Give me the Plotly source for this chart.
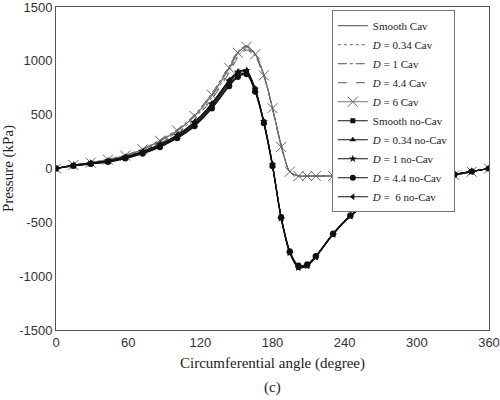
import plotly.graph_objects as go

angles = [0, 14.4, 28.8, 43.2, 57.6, 72, 86.4, 100.8, 115.2, 129.6, 144, 151.2, 158.4, 165.6,
          172.8, 180, 187.2, 194.4, 201.6, 208.8, 216, 230.4, 244.8, 259.2, 273.6, 288, 302.4,
          316.8, 331.2, 345.6, 360]

smooth_cav = [0, 30, 52, 80, 118, 175, 255, 350, 485, 680, 930, 1070, 1135, 1065, 870, 560, 220,
              -30, -70, -70, -70, -70, -70, -70, -70, -70, -70, -70, -62, -30, 0]
d034_cav = [0, 28, 50, 76, 112, 166, 244, 336, 468, 660, 905, 1045, 1110, 1045, 860, 555, 215,
            -30, -70, -70, -70, -70, -70, -70, -70, -70, -70, -70, -62, -30, 0]
d1_cav = [0, 33, 56, 85, 124, 183, 265, 362, 500, 700, 950, 1085, 1140, 1070, 875, 565, 225,
          -28, -70, -70, -70, -70, -70, -70, -70, -70, -70, -70, -62, -30, 0]
d44_cav = [0, 25, 46, 72, 106, 158, 235, 325, 455, 645, 890, 1030, 1100, 1040, 855, 550, 210,
           -32, -70, -70, -70, -70, -70, -70, -70, -70, -70, -70, -62, -30, 0]
d6_cav = [0, 32, 54, 82, 120, 178, 258, 352, 488, 685, 935, 1075, 1130, 1060, 865, 560, 200,
          -30, -70, -70, -70, -70, -70, -70, -70, -70, -70, -70, -62, -30, 0]

smooth_nocav = [0, 28, 46, 66, 100, 148, 212, 298, 415, 585, 800, 880, 900, 730, 430, 30, -460,
                -780, -915, -900, -820, -610, -440, -320, -232, -176, -139, -93, -56, -28, 0]
d034_nocav = [0, 26, 44, 63, 96, 142, 205, 288, 402, 570, 780, 862, 885, 720, 425, 25, -455,
              -772, -905, -895, -815, -605, -437, -318, -230, -175, -138, -92, -55, -27, 0]
d1_nocav = [0, 30, 49, 70, 105, 155, 220, 308, 428, 600, 815, 895, 910, 738, 435, 35, -462,
            -785, -920, -905, -822, -612, -442, -322, -233, -177, -140, -94, -57, -28, 0]
d44_nocav = [0, 24, 42, 60, 92, 137, 198, 280, 392, 558, 765, 850, 875, 712, 420, 20, -450,
             -768, -900, -890, -812, -603, -435, -316, -229, -174, -137, -91, -55, -27, 0]
d6_nocav = [0, 31, 50, 72, 108, 158, 225, 312, 432, 605, 820, 898, 905, 735, 432, 32, -458,
            -780, -918, -902, -820, -610, -440, -320, -232, -176, -139, -93, -56, -28, 0]

x_ticks = [0, 60, 120, 180, 240, 300, 360]
y_ticks = [-1500, -1000, -500, 0, 500, 1000, 1500]
y_tick_text = ["-1500", "-1000", "-500", "0", "500", "1000", "1500"]

NB = "\u00a0"
series = [
    ("Smooth Cav", smooth_cav, dict(color="#444", width=1, dash="solid"), None),
    ("<i>D</i> = 0.34 Cav", d034_cav, dict(color="#666", width=1, dash="dot"), None),
    ("<i>D</i> = 1 Cav", d1_cav, dict(color="#555", width=1, dash="dashdot"), None),
    ("<i>D</i> = 4.4 Cav", d44_cav, dict(color="#555", width=1, dash="dash"), None),
    ("<i>D</i> = 6 Cav", d6_cav, dict(color="#777", width=1),
     dict(symbol="x-thin-open", size=10, line=dict(color="#666", width=1), color="#666")),
    ("Smooth no-Cav", smooth_nocav, dict(color="#111", width=1.2),
     dict(symbol="square", size=5, color="#111")),
    ("<i>D</i> = 0.34 no-Cav", d034_nocav, dict(color="#111", width=1.2),
     dict(symbol="triangle-up", size=6, color="#111")),
    ("<i>D</i> = 1 no-Cav", d1_nocav, dict(color="#111", width=1.2),
     dict(symbol="star", size=6, color="#111")),
    ("<i>D</i> = 4.4 no-Cav", d44_nocav, dict(color="#111", width=1.2),
     dict(symbol="circle", size=6, color="#111")),
    ("<i>D</i> =" + NB + " 6 no-Cav", d6_nocav, dict(color="#111", width=1.2),
     dict(symbol="triangle-left", size=6, color="#111")),
]

fig = go.Figure()
for name, vals, line, marker in series:
    line = dict(line, shape="spline", smoothing=0.8)
    if marker is None:
        fig.add_trace(go.Scatter(x=angles, y=vals, name=name, mode="lines", line=line))
    else:
        fig.add_trace(go.Scatter(x=angles, y=vals, name=name, mode="lines+markers",
                                 line=line, marker=marker))

serif = "Liberation Serif"
sans = "Liberation Sans"

fig.update_layout(
    width=500, height=400,
    margin=dict(l=56, r=11, t=7, b=70, autoexpand=False),
    paper_bgcolor="white", plot_bgcolor="white",
    showlegend=True,
    font=dict(family=serif, color="#222"),
    legend=dict(x=0.637, y=0.99, xanchor="left", yanchor="top",
                bordercolor="#777", borderwidth=1, bgcolor="white",
                font=dict(family=serif, size=11, color="#222"),
                tracegroupgap=0, itemwidth=30),
    xaxis=dict(range=[0, 360], tickvals=x_ticks, showgrid=False, zeroline=False,
               showline=True, linecolor="#555", linewidth=1, mirror=True, ticks="",
               automargin=False, ticklabeloverflow="allow",
               tickfont=dict(family=sans, size=13, color="#333"),
               title=dict(text="Circumferential angle (degree)",
                          font=dict(family=serif, size=15, color="#222"), standoff=8)),
    yaxis=dict(range=[-1500, 1500], tickvals=y_ticks, ticktext=y_tick_text, showgrid=False,
               zeroline=False, showline=True, linecolor="#555", linewidth=1, mirror=True,
               ticks="", automargin=False, ticklabeloverflow="allow",
               tickfont=dict(family=sans, size=13, color="#333"),
               title=dict(text="Pressure (kPa)",
                          font=dict(family=serif, size=15, color="#222"), standoff=8)),
    annotations=[dict(text="(c)", x=0.5, y=-0.145, xref="paper", yref="paper",
                      showarrow=False, yanchor="top",
                      font=dict(family=serif, size=15, color="#222"))],
)

fig.write_html("out.html", config={"displayModeBar": False},
               post_script="document.body.style.margin='0';")
